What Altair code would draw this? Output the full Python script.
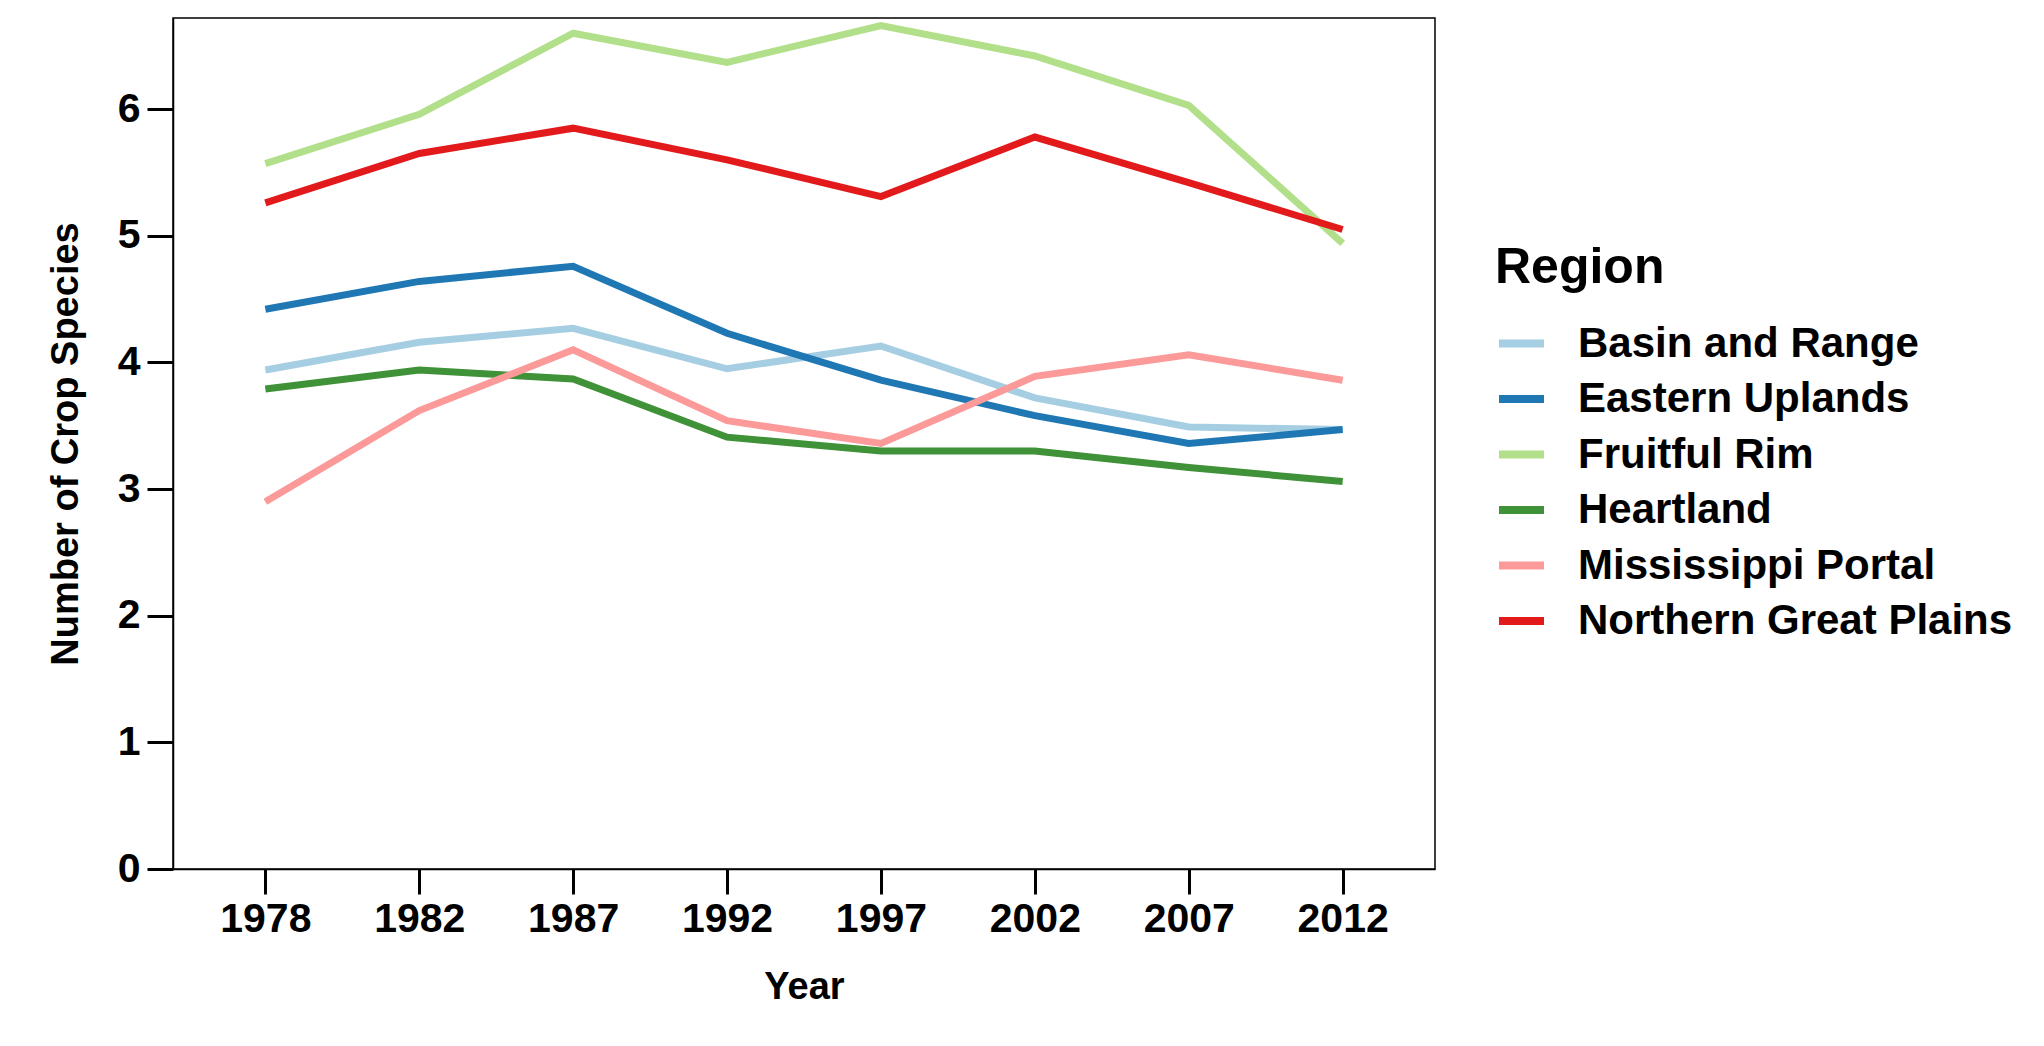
import altair as alt
import pandas as pd

# Survey years (treated as evenly spaced categories)
years = ["1978", "1982", "1987", "1992", "1997", "2002", "2007", "2012"]

# Mean number of crop species per farm, by farm resource region
regions = [
    "Basin and Range",
    "Eastern Uplands",
    "Fruitful Rim",
    "Heartland",
    "Mississippi Portal",
    "Northern Great Plains",
]
basin_and_range = [3.94, 4.16, 4.27, 3.95, 4.13, 3.72, 3.49, 3.47]
eastern_uplands = [4.42, 4.64, 4.76, 4.23, 3.86, 3.58, 3.36, 3.47]
fruitful_rim = [5.57, 5.96, 6.60, 6.37, 6.66, 6.42, 6.03, 4.94]
heartland = [3.79, 3.94, 3.87, 3.41, 3.30, 3.30, 3.17, 3.06]
mississippi_portal = [2.90, 3.62, 4.10, 3.54, 3.36, 3.89, 4.06, 3.86]
northern_great_plains = [5.26, 5.65, 5.85, 5.60, 5.31, 5.78, 5.42, 5.05]

colors = ["#a6cee3", "#1f78b4", "#b2df8a", "#3f9237", "#fb9a99", "#e31a1c"]

series = [
    basin_and_range,
    eastern_uplands,
    fruitful_rim,
    heartland,
    mississippi_portal,
    northern_great_plains,
]

rows = []
for name, vals in zip(regions, series):
    for yr, v in zip(years, vals):
        rows.append({"Year": yr, "Region": name, "Species": v})
df = pd.DataFrame(rows)

FONT = "Liberation Sans"
PLOT_W, PLOT_H = 1262, 851
PAD_L, PAD_T = 173, 18

chart = (
    alt.Chart(df)
    .mark_line(strokeWidth=7, strokeJoin="miter", strokeCap="butt")
    .encode(
        x=alt.X(
            "Year:O",
            sort=years,
            scale=alt.Scale(type="point", padding=0.6),
            axis=alt.Axis(
                title="Year",
                labelAngle=0,
                tickSize=25,
                tickWidth=3,
                labelPadding=5,
                titlePadding=29,
            ),
        ),
        y=alt.Y(
            "Species:Q",
            scale=alt.Scale(domain=[0, 6.72], nice=False, zero=True),
            axis=alt.Axis(
                title="Number of Crop Species",
                values=[0, 1, 2, 3, 4, 5, 6],
                format="d",
                tickSize=26,
                tickWidth=3,
                labelPadding=7,
                titlePadding=32,
            ),
        ),
        color=alt.Color(
            "Region:N",
            sort=regions,
            scale=alt.Scale(domain=regions, range=colors),
            legend=alt.Legend(
                title="Region",
                orient="none",
                legendX=1322,
                legendY=225,
                symbolType="stroke",
                symbolSize=2025,
                symbolStrokeWidth=8,
                labelOffset=30,
                rowPadding=7.5,
                titlePadding=24,
            ),
        ),
    )
    .properties(
        width=PLOT_W,
        height=PLOT_H,
        padding={
            "left": PAD_L,
            "top": PAD_T,
            "right": 2044 - PAD_L - PLOT_W,
            "bottom": 1046 - PAD_T - PLOT_H,
        },
        autosize=alt.AutoSizeParams(type="none"),
    )
    .configure_view(stroke="black", strokeWidth=1.5)
    .configure_axis(
        domain=True,
        domainColor="black",
        domainWidth=1.5,
        grid=False,
        tickColor="black",
        labelFont=FONT,
        labelFontSize=41,
        labelFontWeight="bold",
        labelColor="black",
        titleFont=FONT,
        titleFontSize=38,
        titleFontWeight="bold",
        titleColor="black",
    )
    .configure_legend(
        titleFont=FONT,
        titleFontSize=50,
        titleFontWeight="bold",
        titleColor="black",
        labelFont=FONT,
        labelFontSize=42,
        labelFontWeight="bold",
        labelColor="black",
        labelLimit=600,
    )
)

chart.save("out.html", embed_options={"renderer": "svg", "actions": False})
